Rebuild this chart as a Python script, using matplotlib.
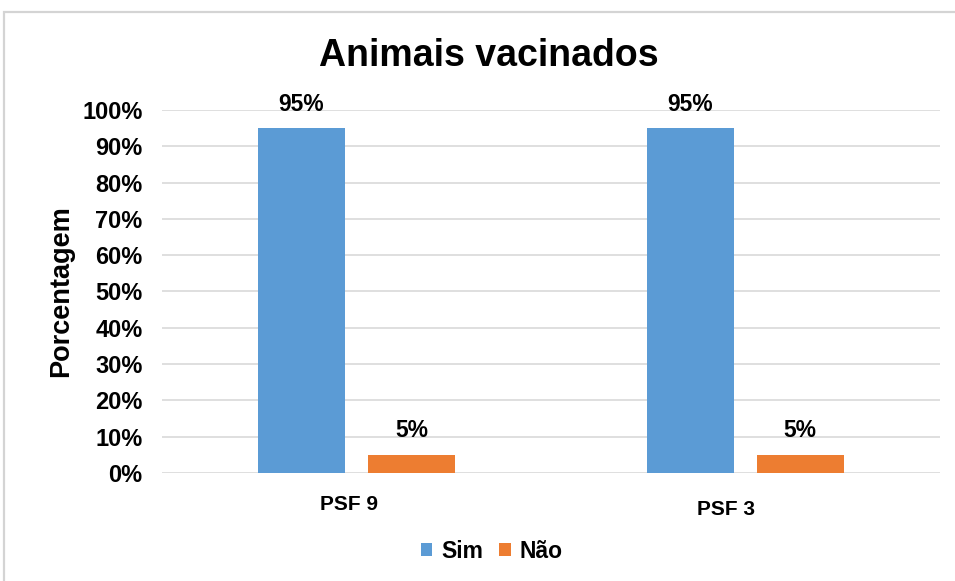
import matplotlib
matplotlib.use("Agg")
import matplotlib.pyplot as plt
import matplotlib.transforms as mtransforms
from matplotlib.patches import Rectangle
import numpy as np

plt.rcParams['font.family'] = ['Liberation Sans', 'DejaVu Sans']

categories = ["PSF 9", "PSF 3"]
series_names = ["Sim", "Não"]
sim_values = [0.95, 0.95]
nao_values = [0.05, 0.05]
yticks = [0, 0.1, 0.2, 0.3, 0.4, 0.5, 0.6, 0.7, 0.8, 0.9, 1.0]
colors = ["#5B9BD5", "#ED7D31"]

fig = plt.figure(figsize=(9.55, 5.81), dpi=100)
ax = fig.add_axes([0.1696, 0.1859, 0.984 - 0.1696, 0.8107 - 0.1859])

# figure border
fig.patches.append(Rectangle((0.004, -0.05), 1.2, 0.979 + 0.05, transform=fig.transFigure,
                             fill=False, edgecolor="#d4d4d4", linewidth=1.6, zorder=0))

x = np.arange(len(categories))
w = 0.224
off = 0.1415
b1 = ax.bar(x - off, sim_values, w, color=colors[0], label=series_names[0], zorder=3)
b2 = ax.bar(x + off, nao_values, w, color=colors[1], label=series_names[1], zorder=3)

for bars in (b1, b2):
    for r in bars:
        ax.annotate(f"{r.get_height()*100:.0f}%", (r.get_x() + r.get_width() / 2, r.get_height()),
                    xytext=(0, 9), textcoords="offset points", ha="center", va="bottom",
                    fontsize=16.5, fontweight="bold")

ax.set_xlim(-0.5, 1.5)
ax.set_ylim(0, 1.0)
ax.set_yticks(yticks)
ax.set_yticklabels([f"{t*100:.0f}%" for t in yticks], fontsize=17, fontweight="bold")
ax.set_xticks(x)
ax.set_xticklabels(categories, fontsize=15, fontweight="bold")
ax.tick_params(axis="both", length=0)
ax.tick_params(axis="y", pad=14)
ax.tick_params(axis="x", pad=16)
shifts = [(-7, 0), (-19, -5)]
for lab, (dx, dy) in zip(ax.get_xticklabels(), shifts):
    lab.set_transform(lab.get_transform() + mtransforms.ScaledTranslation(dx / 100, dy / 100, fig.dpi_scale_trans))

ax.yaxis.grid(True, color="#d9d9d9", linewidth=1.2, zorder=0)
ax.set_axisbelow(True)
for s in ax.spines.values():
    s.set_visible(False)

ax.set_ylabel("Porcentagem", fontsize=19.5, fontweight="bold", labelpad=6)
fig.text(0.512, 1 - 56 / 581, "Animais vacinados", ha="center", va="center",
         fontsize=27, fontweight="bold")

fig.legend(loc="center", bbox_to_anchor=(0.515, 1 - 551 / 581), ncol=2, frameon=False,
           prop={"weight": "bold", "size": 16.5}, handlelength=0.5, handleheight=0.5,
           handletextpad=0.4, columnspacing=0.7)

fig.savefig("out.png", dpi=100)
